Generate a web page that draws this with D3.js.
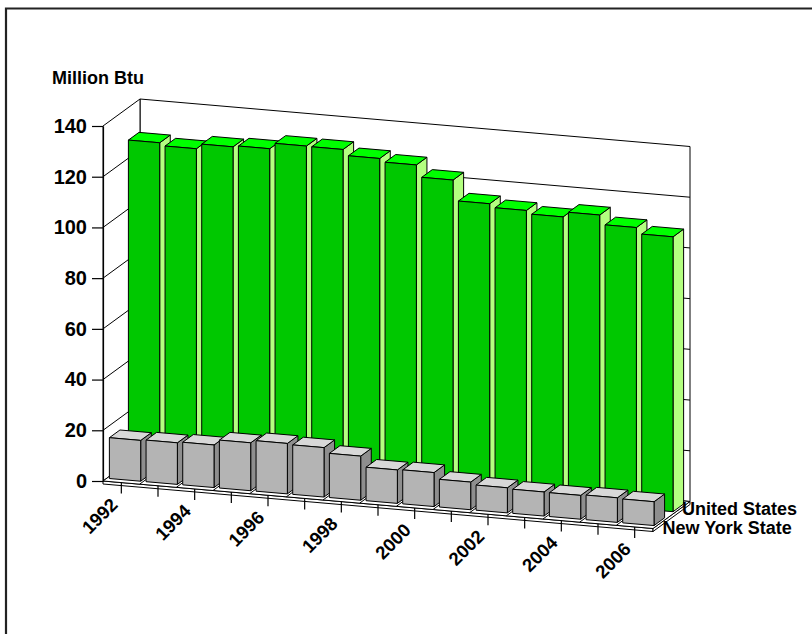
<!DOCTYPE html>
<html>
<head>
<meta charset="utf-8">
<script src="https://cdn.jsdelivr.net/npm/d3@7"></script>
<style>
  html, body { margin: 0; padding: 0; background: #fff; overflow: hidden; }
  svg { display: block; }
  .lbl { font-family: 'Liberation Sans', Arial, Helvetica, sans-serif; font-weight: bold; fill: #000; }
</style>
</head>
<body>
<svg id="chart" width="812" height="634"></svg>
<script>
// ---- data ----
const years = [1992, 1993, 1994, 1995, 1996, 1997, 1998, 1999, 2000, 2001, 2002, 2003, 2004, 2005, 2006];
const seriesNames = ["New York State", "United States"];
const unitedStates = [128.0, 126.9, 128.9, 129.4, 131.7, 131.6, 129.3, 128.0, 123.3, 115.2, 113.8, 112.5, 114.5, 110.8, 108.4];
const newYorkState = [16.1, 16.4, 16.8, 18.9, 19.9, 19.5, 17.4, 13.2, 13.4, 10.9, 9.9, 9.5, 9.4, 9.7, 9.4];
const valueTicks = [0, 20, 40, 60, 80, 100, 120, 140];
const labeledYears = [1992, 1994, 1996, 1998, 2000, 2002, 2004, 2006];
const axisTitle = "Million Btu";

// ---- layout ----
const svg = d3.select("#chart");

// oblique projection: a = distance along the category run, d = depth (0 front .. 1 back), v = value
const origin = { x: 103, y: 481 };
const runLen = 550, runDrop = 47.5;
const depthVec = { x: 37, y: -27 };
const slope = runDrop / runLen;

const xBand = d3.scaleBand().domain(years).range([0, runLen])
  .paddingInner(0.146).paddingOuter(0.073);
const hScale = d3.scaleLinear().domain([0, 140]).range([0, 355]);
const rowBand = d3.scaleBand().domain(seriesNames).range([0, 1])
  .paddingInner(0.444).paddingOuter(0.195);

function P(a, d, v) {
  return [origin.x + a + d * depthVec.x, origin.y + a * slope + d * depthVec.y - hScale(v)];
}
const poly = pts => "M" + pts.map(p => p[0].toFixed(2) + "," + p[1].toFixed(2)).join("L") + "Z";
const seg = (p, q) => "M" + p[0] + "," + p[1] + "L" + q[0] + "," + q[1];

// outer frame (only its top and left edges fall inside the view)
svg.append("path").attr("d", "M6,700V8.5H900")
  .attr("fill", "none").attr("stroke", "#222").attr("stroke-width", 2.2);

const vMax = valueTicks[valueTicks.length - 1];
const g = svg.append("g");

// back wall with gridlines
g.append("path").attr("d", poly([P(0, 1, 0), P(runLen, 1, 0), P(runLen, 1, vMax), P(0, 1, vMax)]))
  .attr("fill", "#fff").attr("stroke", "#000").attr("stroke-width", 1);
g.selectAll(".bgrid").data(valueTicks.filter(v => v > 0 && v < vMax)).join("path")
  .attr("d", v => seg(P(0, 1, v), P(runLen, 1, v)))
  .attr("stroke", "#000").attr("stroke-width", 1).attr("fill", "none");

// left wall with gridlines
g.append("path").attr("d", poly([P(0, 0, 0), P(0, 1, 0), P(0, 1, vMax), P(0, 0, vMax)]))
  .attr("fill", "#fff").attr("stroke", "#000").attr("stroke-width", 1);
g.selectAll(".lgrid").data(valueTicks.filter(v => v > 0 && v < vMax)).join("path")
  .attr("d", v => seg(P(0, 0, v), P(0, 1, v)))
  .attr("stroke", "#000").attr("stroke-width", 1).attr("fill", "none");

// floor slab
const slab = 3;
const down = (p, t) => [p[0], p[1] + t];
g.append("path").attr("d", poly([P(0, 0, 0), P(runLen, 0, 0), down(P(runLen, 0, 0), slab), down(P(0, 0, 0), slab)]))
  .attr("fill", "#fff").attr("stroke", "#000").attr("stroke-width", 1);
g.append("path").attr("d", poly([P(runLen, 0, 0), P(runLen, 1, 0), down(P(runLen, 1, 0), slab), down(P(runLen, 0, 0), slab)]))
  .attr("fill", "#fff").attr("stroke", "#000").attr("stroke-width", 1);
g.append("path").attr("d", poly([P(0, 0, 0), P(runLen, 0, 0), P(runLen, 1, 0), P(0, 1, 0)]))
  .attr("fill", "#fff").attr("stroke", "#000").attr("stroke-width", 1);
g.selectAll(".fgrid").data(d3.range(1, years.length)).join("path")
  .attr("d", k => seg(P(k * xBand.step(), 0, 0), P(k * xBand.step(), 1, 0)))
  .attr("stroke", "#000").attr("stroke-width", 1).attr("fill", "none");

// value axis on the front-left edge
const yAxisScale = d3.scaleLinear().domain([0, vMax]).range([origin.y, origin.y - hScale(vMax)]);
const yAxis = svg.append("g").attr("transform", `translate(${origin.x},0)`)
  .call(d3.axisLeft(yAxisScale).tickValues(valueTicks).tickSize(11).tickSizeOuter(0).tickPadding(5));
yAxis.selectAll("path, line").attr("stroke", "#000").attr("stroke-width", 1.2);
yAxis.selectAll("text").attr("class", "lbl").style("font-size", "20px");

svg.append("text").attr("class", "lbl").attr("x", 52).attr("y", 84).text(axisTitle)
  .style("font-size", "18px");

// bars
const styles = {
  "United States": { front: "#00c800", top: "#00ff00", side: "#b3ff80" },
  "New York State": { front: "#b4b4b4", top: "#d8d8d8", side: "#8e8e8e" }
};
const seriesValues = { "United States": unitedStates, "New York State": newYorkState };

// draw back row first, then front row, each left to right
["United States", "New York State"].forEach(name => {
  const d0 = rowBand(name), d1 = d0 + rowBand.bandwidth();
  const st = styles[name];
  const bars = years.map((yr, i) => ({ yr, v: seriesValues[name][i] }));
  const bg = g.selectAll(null).data(bars).join("g");
  bg.each(function (b) {
    const a0 = xBand(b.yr), a1 = a0 + xBand.bandwidth();
    const sel = d3.select(this);
    sel.append("path").attr("d", poly([P(a1, d0, 0), P(a1, d1, 0), P(a1, d1, b.v), P(a1, d0, b.v)]))
      .attr("fill", st.side).attr("stroke", "#000").attr("stroke-width", 1).attr("stroke-linejoin", "round");
    sel.append("path").attr("d", poly([P(a0, d0, b.v), P(a1, d0, b.v), P(a1, d1, b.v), P(a0, d1, b.v)]))
      .attr("fill", st.top).attr("stroke", "#000").attr("stroke-width", 1).attr("stroke-linejoin", "round");
    sel.append("path").attr("d", poly([P(a0, d0, 0), P(a1, d0, 0), P(a1, d0, b.v), P(a0, d0, b.v)]))
      .attr("fill", st.front).attr("stroke", "#000").attr("stroke-width", 1).attr("stroke-linejoin", "round");
  });
});

// category ticks and labels along the front floor edge
const tickLen = 11;
svg.selectAll(".xtick").data(years).join("path")
  .attr("d", yr => {
    const p = P(xBand(yr) + xBand.bandwidth() / 2, 0, 0);
    return seg(p, [p[0], p[1] + tickLen]);
  })
  .attr("stroke", "#000").attr("stroke-width", 1.2);
svg.selectAll(".xlabel").data(labeledYears).join("text")
  .attr("class", "lbl")
  .attr("transform", yr => {
    const p = P(xBand(yr) + xBand.bandwidth() / 2, 0, 0);
    return `translate(${p[0] - 12},${p[1] + tickLen + 3}) rotate(-45)`;
  })
  .attr("text-anchor", "end").attr("dy", "0.72em")
  .style("font-size", "18.5px")
  .text(yr => yr);

// series labels at the right end of each row
const rowLabelOffset = { "United States": [1, 6.75], "New York State": [0.5, 12.25] };
svg.selectAll(".rowlabel").data(["United States", "New York State"]).join("text")
  .attr("class", "lbl")
  .attr("x", n => P(runLen, rowBand(n) + rowBand.bandwidth() / 2, 0)[0] + rowLabelOffset[n][0])
  .attr("y", n => P(runLen, rowBand(n) + rowBand.bandwidth() / 2, 0)[1] + rowLabelOffset[n][1])
  .style("font-size", "18px")
  .text(n => n);
</script>
</body>
</html>
